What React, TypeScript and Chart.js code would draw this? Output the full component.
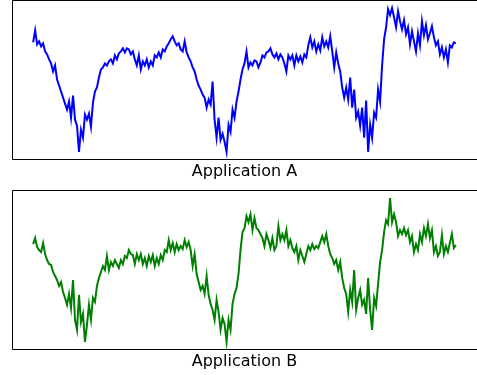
import React, { useEffect, useRef } from "react";
import { Chart, registerables } from "chart.js";

Chart.register(...registerables);

// Application A (blue) sampled values, evenly spaced in time
const seriesA: number[] = [
  117, 129, 115, 118, 113, 116, 108, 105, 100, 96,
  88, 94, 80, 74, 68, 62, 56, 50, 58, 42,
  64, 40, 34, 8, 30, 22, 45, 40, 46, 33,
  57, 68, 72, 82, 90, 92, 96, 94, 98, 100,
  96, 104, 100, 106, 108, 111, 107, 111, 110, 105,
  108, 100, 94, 104, 90, 98, 94, 100, 92, 98,
  94, 104, 102, 107, 102, 110, 108, 113, 116, 120,
  123, 118, 114, 116, 110, 108, 118, 107, 102, 98,
  92, 88, 80, 74, 70, 65, 62, 52, 60, 55,
  78, 40, 22, 42, 20, 26, 18, 8, 35, 28,
  50, 42, 58, 68, 80, 90, 96, 108, 92, 97,
  94, 99, 98, 92, 97, 104, 102, 107, 108, 111,
  105, 102, 106, 100, 105, 102, 96, 88, 104, 100,
  104, 94, 104, 98, 103, 97, 105, 102, 114, 122,
  112, 118, 108, 115, 109, 122, 113, 118, 112, 123,
  108, 92, 107, 96, 88, 72, 62, 72, 60, 82,
  52, 70, 42, 48, 34, 52, 22, 59, 8, 35,
  22, 47, 42, 70, 58, 94, 120, 132, 150, 144,
  151, 142, 132, 148, 138, 130, 139, 125, 132, 115,
  128, 118, 108, 126, 114, 138, 124, 134, 120, 126,
  133, 122, 114, 118, 105, 112, 102, 110, 97, 114,
  112, 117, 116,
];

// Application B (green) sampled values, evenly spaced in time
const seriesB: number[] = [
  106, 112, 103, 100, 98, 107, 96, 90, 86, 85,
  78, 74, 70, 64, 68, 58, 52, 45, 56, 42,
  70, 30, 20, 55, 28, 36, 8, 25, 45, 30,
  52, 48, 64, 72, 78, 84, 80, 94, 80, 88,
  84, 90, 86, 82, 90, 86, 94, 92, 100, 96,
  95, 86, 96, 90, 96, 86, 92, 84, 94, 88,
  95, 84, 92, 86, 95, 90, 100, 98, 110, 100,
  107, 98, 106, 100, 104, 101, 110, 103, 108, 100,
  84, 96, 76, 68, 60, 64, 56, 74, 55, 46,
  40, 30, 50, 38, 20, 32, 26, 8, 30, 20,
  46, 56, 62, 76, 100, 118, 122, 134, 128, 136,
  120, 132, 122, 120, 116, 112, 104, 116, 110, 102,
  112, 100, 104, 124, 110, 116, 110, 120, 104, 110,
  102, 98, 104, 90, 100, 94, 88, 96, 104, 100,
  106, 101, 104, 102, 108, 114, 108, 116, 104, 96,
  92, 86, 90, 80, 88, 72, 62, 56, 38, 60,
  48, 80, 40, 52, 60, 45, 50, 36, 72, 40,
  20, 52, 44, 66, 88, 100, 118, 130, 126, 152,
  128, 136, 128, 114, 120, 116, 122, 115, 120, 108,
  114, 98, 106, 100, 116, 108, 122, 114, 126, 112,
  120, 98, 104, 94, 98, 115, 96, 104, 98, 107,
  116, 102, 105,
];

const titleA = "Application A";
const titleB = "Application B";
const colorA = "#0000ff";
const colorB = "#008000";

const framePlugin = {
  id: "frame",
  afterDraw(chart: any) {
    const { ctx, chartArea: a } = chart;
    ctx.save();
    ctx.strokeStyle = "#000";
    ctx.lineWidth = 1;
    const l = Math.floor(a.left) + 0.5;
    const t = Math.floor(a.top) - 0.5;
    const r = Math.floor(a.right) + 0.5;
    const b = Math.floor(a.bottom) + 0.5;
    ctx.beginPath();
    ctx.moveTo(l, t);
    ctx.lineTo(r, t);
    ctx.lineTo(r, b);
    ctx.lineTo(l, b);
    ctx.closePath();
    ctx.stroke();
    ctx.restore();
  },
};

function Panel({ values, color, title, top }: { values: number[]; color: string; title: string; top: number }) {
  const ref = useRef<HTMLCanvasElement | null>(null);
  useEffect(() => {
    if (!ref.current) return;
    const n = values.length - 1;
    const lo = Math.min(...values);
    const hi = Math.max(...values);
    const span = hi - lo;
    const chart = new Chart(ref.current, {
      type: "line",
      data: {
        datasets: [
          {
            data: values.map((v, i) => ({ x: i, y: v })),
            borderColor: color,
            borderWidth: 2,
            pointRadius: 0,
            tension: 0,
            fill: false,
          },
        ],
      },
      options: {
        animation: false,
        responsive: false,
        maintainAspectRatio: false,
        layout: { padding: { left: 12, right: 0, top: 1, bottom: 0 } },
        scales: {
          x: { type: "linear", display: false, min: -0.05 * n, max: 1.05 * n },
          y: { type: "linear", display: false, min: lo - 0.05 * span, max: hi + 0.05 * span },
        },
        plugins: {
          legend: { display: false },
          tooltip: { enabled: false },
          title: {
            display: true,
            text: title,
            position: "bottom",
            color: "#000",
            font: { family: "DejaVu Sans", size: 16, weight: "normal", lineHeight: 1.2 },
            padding: { top: 3.5, bottom: 3.3 },
          },
        },
      },
      plugins: [framePlugin],
    });
    return () => chart.destroy();
  }, [values, color, title]);
  return (
    <canvas
      ref={ref}
      width={477}
      height={185}
      style={{ position: "absolute", left: 0, top, width: 477, height: 185 }}
    />
  );
}

export default function App() {
  return (
    <div style={{ position: "absolute", left: 0, top: 0, width: 477, height: 375, background: "#fff" }}>
      <Panel values={seriesA} color={colorA} title={titleA} top={0} />
      <Panel values={seriesB} color={colorB} title={titleB} top={190} />
    </div>
  );
}
